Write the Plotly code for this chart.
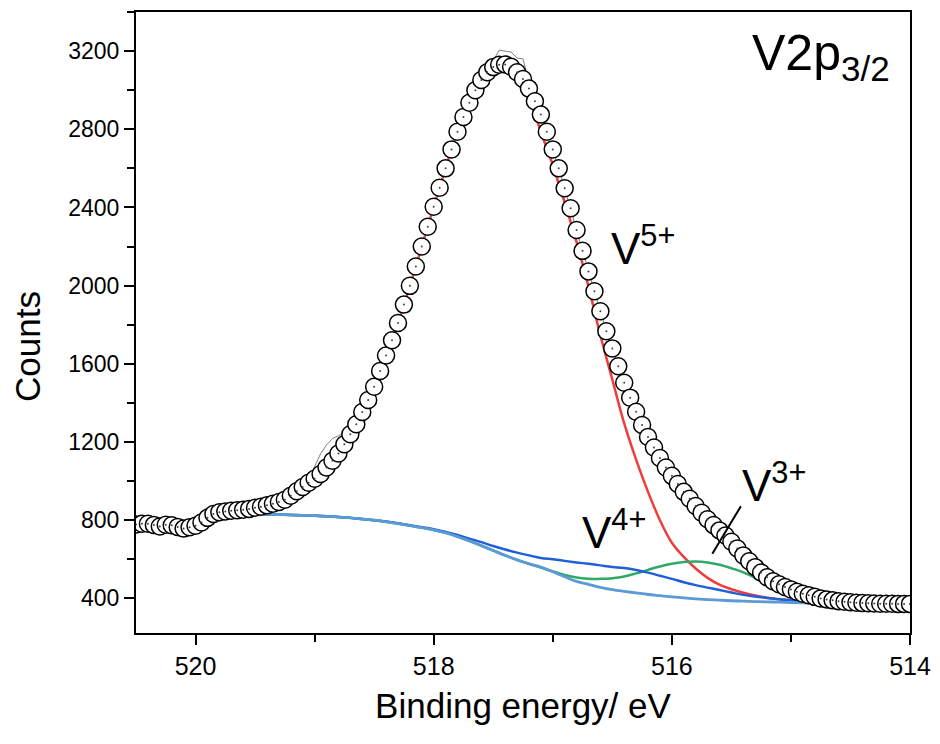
import plotly.graph_objects as go

# ---------------- data ----------------
# measured points, 0.05 eV step from 520.50 down to 514.00
energy = [round(520.50 - 0.05 * i, 2) for i in range(131)]
counts = [778, 782, 782, 776, 768, 777, 774, 765, 757, 764,
          772, 788, 812, 832, 841, 845, 848, 851, 854, 858,
          864, 869, 876, 884, 893, 905, 925, 948, 970, 992,
          1012, 1036, 1070, 1104, 1141, 1189, 1240, 1291, 1354, 1415,
          1483, 1563, 1643, 1721, 1809, 1903, 1999, 2098, 2200, 2301,
          2404, 2501, 2600, 2697, 2787, 2863, 2936, 3000, 3052, 3092,
          3118, 3130, 3132, 3120, 3092, 3057, 3008, 2943, 2875, 2787,
          2697, 2600, 2498, 2396, 2285, 2178, 2073, 1971, 1869, 1767,
          1679, 1588, 1503, 1427, 1355, 1287, 1226, 1172, 1118, 1070,
          1027, 985, 945, 910, 873, 838, 805, 775, 748, 722,
          690, 655, 620, 590, 560, 532, 508, 488, 472, 458,
          446, 434, 424, 416, 408, 400, 395, 390, 386, 383,
          380, 378, 376, 375, 374, 373, 373, 373, 372, 372,
          372]
raw_counts = [778, 782, 782, 776, 768, 777, 774, 765, 757, 764,
              772, 788, 812, 832, 841, 845, 848, 851, 854, 858,
              864, 869, 876, 884, 893, 905, 925, 948, 970, 1000,
              1075, 1140, 1185, 1218, 1232, 1248, 1272, 1300, 1354, 1415,
              1483, 1563, 1643, 1721, 1809, 1903, 1999, 2098, 2200, 2301,
              2404, 2501, 2600, 2697, 2787, 2863, 2936, 3000, 3052, 3092,
              3150, 3205, 3200, 3195, 3165, 3160, 3040, 2943, 2875, 2787,
              2697, 2600, 2498, 2396, 2285, 2178, 2073, 1971, 1869, 1767,
              1679, 1588, 1503, 1427, 1355, 1287, 1226, 1172, 1118, 1070,
              1027, 985, 945, 910, 873, 838, 805, 775, 748, 722,
              690, 655, 620, 590, 560, 532, 508, 488, 472, 458,
              446, 434, 424, 416, 408, 400, 395, 390, 386, 383,
              380, 378, 376, 375, 374, 373, 373, 373, 372, 372,
              372]

# fitted components, 0.1 eV step from 519.6 down to 514.7
fit_energy = [round(519.6 - 0.1 * i, 1) for i in range(50)]
background = [835, 833, 831, 829, 827, 825, 823, 820, 817, 812,
              806, 800, 792, 783, 772, 762, 750, 735, 716, 694,
              670, 645, 620, 597, 577, 560, 536, 511, 487, 472,
              457, 445, 436, 428, 420, 414, 408, 403, 398, 394,
              391, 388, 386, 384, 382, 381, 379, 377, 376, 375]
v4_fit = [835, 833, 831, 829, 827, 825, 823, 820, 817, 812,
          806, 800, 793, 784, 774, 764, 754, 740, 724, 706,
          688, 668, 650, 634, 620, 607, 600, 592, 584, 577,
          569, 561, 555, 545, 532, 516, 500, 483, 468, 455,
          443, 430, 418, 410, 402, 396, 391, 388, 385, 383]
v3_fit = [835, 833, 831, 829, 827, 825, 823, 820, 817, 812,
          806, 800, 792, 783, 772, 762, 750, 735, 716, 694,
          670, 645, 620, 597, 577, 558, 538, 520, 507, 501,
          500, 503, 512, 528, 546, 563, 577, 586, 589, 584,
          572, 554, 533, 505, 475, 447, 422, 404, 392, 385]
v5_fit = [845, 855, 866, 880, 905, 950, 1005, 1068, 1140, 1238,
          1352, 1483, 1643, 1809, 1999, 2200, 2404, 2600, 2787, 2936,
          3052, 3118, 3128, 3075, 2965, 2787, 2617, 2425, 2223, 1995,
          1745, 1520, 1295, 1110, 945, 800, 685, 612, 553, 505,
          470, 447, 429, 415, 403, 395, 390, 386, 383, 381]

x_ticks = [520, 518, 516, 514]
y_ticks = [400, 800, 1200, 1600, 2000, 2400, 2800, 3200]

# pointer line for the V3+ label (energy, counts)
pointer_start = (515.66, 628)
pointer_end = (515.42, 872)

FONT = "Liberation Sans, Arial, sans-serif"

fig = go.Figure()

line_w = 2.5
fig.add_trace(go.Scatter(x=fit_energy, y=v5_fit, mode="lines",
                         line=dict(color="#f03c3c", width=line_w, shape="spline"),
                         showlegend=False))
fig.add_trace(go.Scatter(x=fit_energy, y=v3_fit, mode="lines",
                         line=dict(color="#2eaa66", width=line_w, shape="spline"),
                         showlegend=False))
fig.add_trace(go.Scatter(x=fit_energy, y=v4_fit, mode="lines",
                         line=dict(color="#1f5fd8", width=line_w, shape="spline"),
                         showlegend=False))
fig.add_trace(go.Scatter(x=fit_energy, y=background, mode="lines",
                         line=dict(color="#5b9bd5", width=2.8, shape="spline"),
                         showlegend=False))
fig.add_trace(go.Scatter(x=energy, y=raw_counts, mode="lines",
                         line=dict(color="#808080", width=1),
                         showlegend=False))
fig.add_trace(go.Scatter(x=energy, y=counts, mode="markers",
                         marker=dict(symbol="circle", size=17, color="white",
                                     line=dict(color="black", width=1.5)),
                         showlegend=False))
fig.add_trace(go.Scatter(x=energy, y=counts, mode="markers",
                         marker=dict(symbol="circle", size=2, color="#444444"),
                         showlegend=False))

fig.add_shape(type="line", xref="x", yref="y",
              x0=pointer_start[0], y0=pointer_start[1],
              x1=pointer_end[0], y1=pointer_end[1],
              line=dict(color="black", width=2))

ann_font = dict(family=FONT, color="black")
fig.add_annotation(x=515.34, y=3000, xref="x", yref="y", xanchor="left", yanchor="bottom",
                   text="V2p<sub>3/2</sub>", showarrow=False, font=dict(size=50, **ann_font))
fig.add_annotation(x=516.53, y=2055, xref="x", yref="y", xanchor="left", yanchor="bottom",
                   text="V<sup>5+</sup>", showarrow=False, font=dict(size=44, **ann_font))
fig.add_annotation(x=516.77, y=600, xref="x", yref="y", xanchor="left", yanchor="bottom",
                   text="V<sup>4+</sup>", showarrow=False, font=dict(size=44, **ann_font))
fig.add_annotation(x=515.43, y=840, xref="x", yref="y", xanchor="left", yanchor="bottom",
                   text="V<sup>3+</sup>", showarrow=False, font=dict(size=44, **ann_font))
# y-axis title placed as in the reference (slightly below the axis centre)
fig.add_annotation(x=-0.141, y=0.462, xref="paper", yref="paper", xanchor="center",
                   yanchor="middle", textangle=-90, text="Counts", showarrow=False,
                   font=dict(size=35, **ann_font))

axis_common = dict(showgrid=False, zeroline=False, showline=True, linecolor="black",
                   linewidth=2, mirror=True, ticks="outside", ticklen=10, tickwidth=2,
                   tickcolor="black")

fig.update_xaxes(range=[520.5, 514], tickvals=x_ticks,
                 minor=dict(dtick=1, tick0=514, ticks="outside", ticklen=7, tickwidth=2,
                            tickcolor="black", showgrid=False),
                 tickfont=dict(family=FONT, size=25, color="black"),
                 title=dict(text="Binding energy/ eV", standoff=14,
                            font=dict(family=FONT, size=35, color="black")),
                 **axis_common)
fig.update_yaxes(range=[223, 3400], tickvals=y_ticks,
                 minor=dict(dtick=200, tick0=0, ticks="outside", ticklen=7, tickwidth=2,
                            tickcolor="black", showgrid=False),
                 tickfont=dict(family=FONT, size=23, color="black"),
                 **axis_common)

fig.update_layout(width=932, height=736, autosize=False,
                  margin=dict(l=128, r=30, t=2, b=111),
                  paper_bgcolor="white", plot_bgcolor="white",
                  showlegend=False)

fig.write_html("out.html")
